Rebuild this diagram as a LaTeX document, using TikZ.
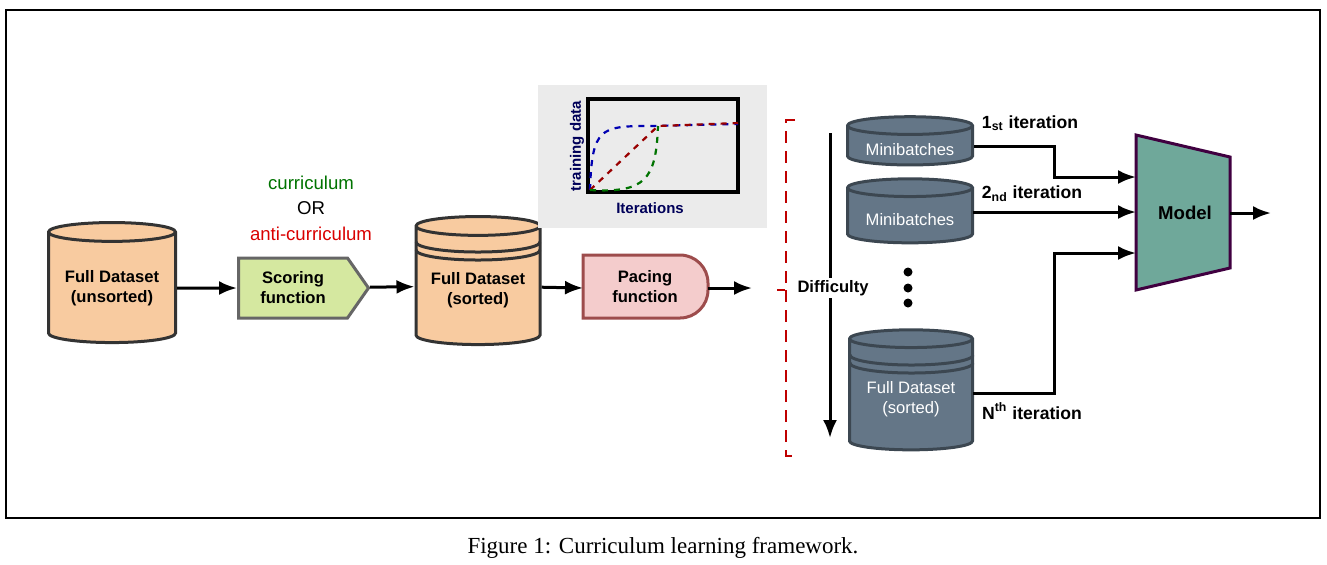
\documentclass[tikz,border=0pt]{standalone}
\usepackage{fontspec}
\setmainfont{Liberation Sans}
\newfontfamily\capfont{Liberation Serif}
\usetikzlibrary{shapes.geometric,shapes.symbols,arrows.meta}
\definecolor{dsorange}{HTML}{F8CBA0}
\definecolor{scgreen}{HTML}{D5E8A0}
\definecolor{pcred}{HTML}{F4CCCC}
\definecolor{mbgray}{HTML}{647687}
\definecolor{mdteal}{HTML}{6FA89A}
\tikzset{
    flow/.style={-{Latex[length=9pt, width=7pt]}, line width=1.5pt},
    dataset/.style={cylinder, shape border rotate=90, aspect=0.2, draw=black!80, line width=1.5pt,
        fill=dsorange, align=center, font=\fontsize{8.3}{10}\selectfont\bfseries, inner sep=0pt},
    batch/.style={dataset, fill=mbgray, draw=mbgray!60!black, text=white, font=\fontsize{8.3}{10}\selectfont},
    iterlabel/.style={font=\fontsize{8.8}{10}\selectfont\bfseries},
}
\begin{document}
\begin{tikzpicture}[x=0.5pt, y=-0.5pt]
    \useasboundingbox (0,0) rectangle (1327,564);
    \draw[line width=0.6pt] (6,10) rectangle (1320,518);
    \node[font=\capfont\fontsize{11.5}{13}\selectfont] (caption) at (663,548) {Figure 1: Curriculum learning framework.};

    % left part
    \node[dataset, minimum width=63.5pt, minimum height=60pt] (unsorted) at (112,288) {Full Dataset\\(unsorted)};
    \node[signal, signal to=east, signal pointer angle=110, draw=black!60, line width=1.5pt, fill=scgreen,
        minimum width=65pt, minimum height=30pt, text width=52pt, align=center, inner sep=0pt,
        font=\fontsize{8.3}{10}\selectfont\bfseries] (scoring) at (293,288) {Scoring\\function};
    \node[text=green!45!black, font=\fontsize{9.3}{11}\selectfont] (curr) at (311,183) {curriculum};
    \node[font=\fontsize{9.3}{11}\selectfont] (or) at (311,208) {OR};
    \node[text=red!85!black, font=\fontsize{9.3}{11}\selectfont] (anti) at (311,234) {anti-curriculum};
    \node[dataset, minimum width=62pt, minimum height=64pt] (sorted) at (478,286) {\\Full Dataset\\(sorted)};
    \draw[black!80, line width=1.5pt] (416,242) arc[start angle=180, end angle=0, x radius=62, y radius=10];
    \draw[black!80, line width=1.5pt] (416,250) arc[start angle=180, end angle=0, x radius=62, y radius=10];
    \draw[fill=pcred, draw=red!45!black!70, line width=1.5pt] (583,318) -- (583,255) [rounded corners=14pt] -- (708,255) -- (708,318) [sharp corners] -- cycle;
    \node[align=center, font=\fontsize{8.3}{10}\selectfont\bfseries] (pacing) at (645,287) {Pacing\\function};
    \coordinate (paceout) at (752,288);

    \draw[flow] (unsorted) -- (scoring);
    \draw[flow] (scoring) -- (sorted);
    \draw[flow] (sorted) -- (583,288);
    \draw[flow] (708,288) -- (paceout);

    % pacing inset
    \fill[black!8] (538,85) rectangle (767,228);
    \draw[line width=1.6pt] (588,99) rectangle (738,192);
    \draw[blue!70!black, dashed, line width=1.1pt] (590,190) .. controls (592,128) and (600,126) .. (650,126) -- (738,124);
    \draw[red!60!black, dashed, line width=1.1pt] (590,190) -- (658,126) -- (738,123);
    \draw[green!45!black, dashed, line width=1.1pt] (590,190) .. controls (645,193) and (656,180) .. (658,126);
    \node[text=blue!35!black, font=\fontsize{7.5}{9}\selectfont\bfseries] (iters) at (650,208) {Iterations};
    \node[text=blue!35!black, rotate=90, font=\fontsize{7.5}{9}\selectfont\bfseries] (tdata) at (577,146) {training data};

    % brace and difficulty
    \draw[red!75!black, dash pattern=on 6pt off 4pt, line width=1.4pt] (795,120) -- (786,120) -- (786,290) -- (777,290) (786,290) -- (786,456) -- (795,456);
    \coordinate (difftop) at (830,133);
    \coordinate (diffbot) at (830,438);
    \draw[flow] (difftop) -- (diffbot);
    \node[fill=white, inner sep=1pt, font=\fontsize{8.3}{10}\selectfont\bfseries] (diff) at (833,288) {Difficulty};

    % minibatches
    \node[batch, minimum width=62.5pt, minimum height=22pt] (mb1) at (910,146) {\\Minibatches};
    \node[batch, minimum width=62.5pt, minimum height=32pt] (mb2) at (910,216) {\\Minibatches};
    \foreach \y in {272,288,303} \fill (908,\y) circle[radius=4.5];
    \node[batch, minimum width=61.5pt, minimum height=60pt] (full) at (911,395) {\\Full Dataset\\(sorted)};
    \draw[mbgray!60!black, line width=1.5pt] (850,355) arc[start angle=180, end angle=0, x radius=61.5, y radius=10];
    \draw[mbgray!60!black, line width=1.5pt] (850,363) arc[start angle=180, end angle=0, x radius=61.5, y radius=10];

    % model
    \draw[fill=mdteal, draw=violet!50!black, line width=1.5pt] (1136,135) -- (1230,157) -- (1230,268) -- (1136,290) -- cycle;
    \node[font=\fontsize{9.3}{11}\selectfont\bfseries] (model) at (1185,213) {Model};
    \coordinate (in1) at (1136,177);
    \coordinate (in2) at (1136,212);
    \coordinate (in3) at (1136,253);
    \coordinate (out) at (1271,213);

    \draw[flow] (mb1.east) -| (1054,177) -- (in1);
    \draw[flow] (973,212) -- (in2);
    \draw[flow] (973,393) -| (1054,253) -- (in3);
    \draw[flow] (1230,213) -- (out);
    \node[iterlabel] (it1) at (1030,123) {1\textsubscript{st} iteration};
    \node[iterlabel] (it2) at (1032,194) {2\textsubscript{nd} iteration};
    \node[iterlabel] (itn) at (1032,411) {N\textsuperscript{th} iteration};
\end{tikzpicture}
\end{document}
